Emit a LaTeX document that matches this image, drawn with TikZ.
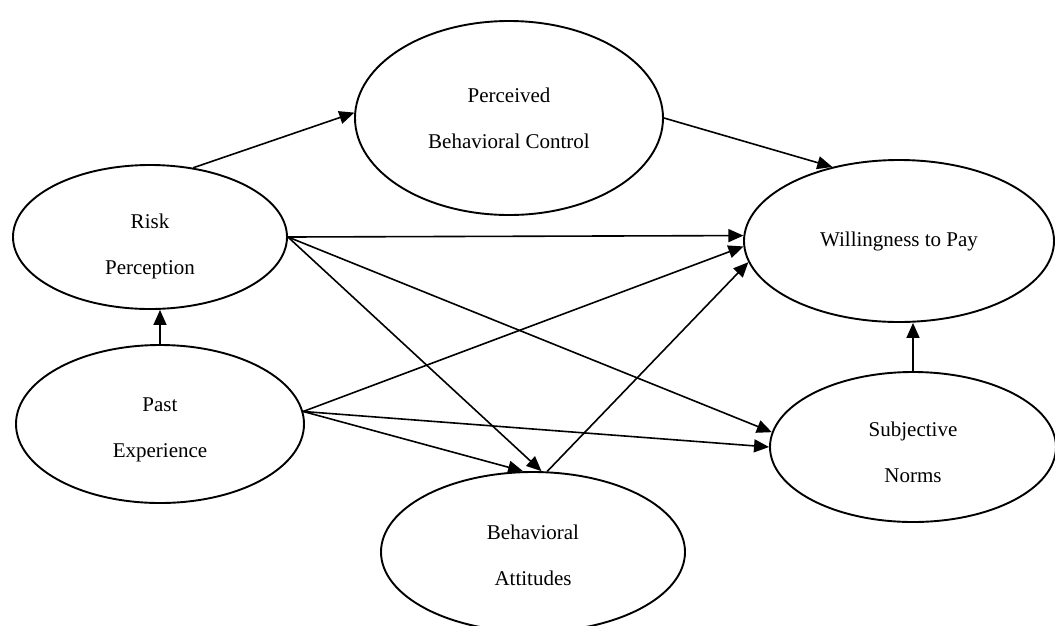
\documentclass[tikz,border=0pt]{standalone}
\usepackage{fontspec}
\setmainfont{Liberation Serif}
\usetikzlibrary{shapes.geometric,arrows.meta}
\newcommand{\lowerby}[1]{\rule{0pt}{\dimexpr 14.5pt + 2\dimexpr #1\relax\relax}}
\begin{document}
\begin{tikzpicture}[x=1pt,y=-1pt,
  construct/.style={ellipse,draw,line width=1.9pt,inner sep=0pt,align=center,
    font=\fontsize{21}{46}\selectfont},
  arr/.style={line width=1.6pt,-{Triangle[length=15pt,width=13pt]}}]
\fill[white] (0,0) rectangle (1055,625);
\useasboundingbox (0,0) rectangle (1055,625);
\node[construct,minimum width=308pt,minimum height=194pt] (pbc) at (509,118) {Perceived\\Behavioral Control};
\node[construct,minimum width=274pt,minimum height=144pt] (rp) at (150,237) {\lowerby{9pt}Risk\\Perception};
\node[construct,minimum width=288pt,minimum height=158pt] (pe) at (160,424) {\lowerby{5pt}Past\\Experience};
\node[construct,minimum width=310pt,minimum height=162pt] (wtp) at (899,241) {Willingness to Pay};
\node[construct,minimum width=286pt,minimum height=150pt] (sn) at (913,447) {\lowerby{5pt}Subjective\\Norms};
\node[construct,minimum width=304pt,minimum height=160pt] (ba) at (533,552) {\lowerby{3pt}Behavioral\\Attitudes};
% connectors
\draw[arr] (rp.58) -- (pbc.178);
\draw[arr] (pbc.east) -- (wtp.132);
\draw[arr] (pe.north) -- (pe.north |- rp.south);
\draw[arr] (sn.north) -- (sn.north |- wtp.south);
\draw[arr] (rp.east) -- (wtp.178);
\draw[arr] (rp.east) -- (ba.84);
\draw[arr] (rp.east) -- (sn.174);
\draw[arr] (pe.5) -- (wtp.182);
\draw[arr] (pe.5) -- (sn.west);
\draw[arr] (pe.5) -- (ba.97);
\draw[arr] (ba.80) -- (wtp.188);
\end{tikzpicture}
\end{document}
